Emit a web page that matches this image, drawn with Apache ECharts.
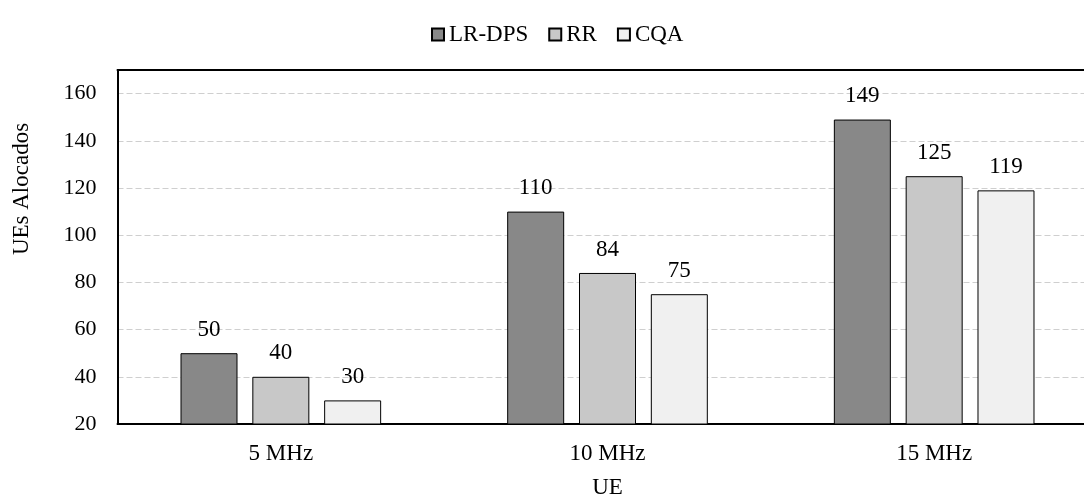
<!DOCTYPE html>
<html>
<head>
<meta charset="utf-8">
<script src="https://cdn.jsdelivr.net/npm/echarts@6/dist/echarts.min.js"></script>
<style>
  html, body { margin: 0; padding: 0; background: #fff; }
  #chart { width: 1084px; height: 495px; }
</style>
</head>
<body>
<div id="chart"></div>
<script>
// Bandwidth configurations on the category axis
const categories = ['5 MHz', '10 MHz', '15 MHz'];

// Allocated UEs per scheduler
const seriesNames = ['LR-DPS', 'RR', 'CQA'];
const lrDps = [50, 110, 149];
const rr = [40, 84, 125];
const cqa = [30, 75, 119];

const seriesValues = [lrDps, rr, cqa];
const seriesColors = ['#888888', '#c8c8c8', '#f0f0f0'];

const FONT = '"Liberation Serif", "Times New Roman", serif';
const FS = 23;

const chart = echarts.init(document.getElementById('chart'), null, { renderer: 'canvas' });

chart.setOption({
  backgroundColor: '#ffffff',
  animation: false,
  textStyle: { fontFamily: FONT, color: '#000' },
  legend: {
    top: 18,
    left: 426,
    icon: 'rect',
    itemWidth: 12,
    itemHeight: 12,
    itemGap: 20,
    textStyle: { fontFamily: FONT, fontSize: FS, color: '#000' },
    data: seriesNames
  },
  grid: {
    left: 117.5,
    top: 70,
    width: 980,
    height: 354,
    containLabel: false,
    outerBoundsMode: 'none'
  },
  // rotated title of the value axis, drawn as free text
  graphic: [{
    type: 'text',
    x: 22,
    y: 189,
    rotation: Math.PI / 2,
    style: {
      text: 'UEs Alocados',
      fontFamily: FONT,
      fontSize: FS,
      fill: '#000',
      align: 'center',
      verticalAlign: 'middle'
    }
  }],
  xAxis: [
    {
      type: 'category',
      data: categories,
      position: 'bottom',
      name: 'UE',
      nameLocation: 'middle',
      nameGap: 52,
      nameTextStyle: { fontFamily: FONT, fontSize: FS, color: '#000' },
      axisLine: { show: true, lineStyle: { color: '#000', width: 2 } },
      axisTick: { show: false },
      axisLabel: { fontFamily: FONT, fontSize: FS, color: '#000', margin: 18 }
    },
    {
      type: 'category',
      data: categories,
      position: 'top',
      axisLine: { show: true, lineStyle: { color: '#000', width: 2 } },
      axisTick: { show: false },
      axisLabel: { show: false }
    }
  ],
  yAxis: {
    type: 'value',
    min: 20,
    max: 170,
    interval: 20,
    axisLine: { show: true, lineStyle: { color: '#000', width: 2 } },
    axisTick: { show: false },
    axisLabel: {
      fontFamily: FONT, fontSize: 22, color: '#000', margin: 21,
      formatter: function (v) { return v > 160 ? '' : String(v); }
    },
    splitLine: {
      show: true,
      lineStyle: { color: '#cfcfcf', type: [6, 3], width: 1 }
    }
  },
  series: seriesNames.map(function (name, i) {
    return {
      name: name,
      type: 'bar',
      xAxisIndex: 0,
      data: seriesValues[i],
      barWidth: 57,
      barGap: '26%',
      itemStyle: { color: seriesColors[i], borderColor: '#000', borderWidth: 1 },
      label: {
        show: true,
        position: 'top',
        distance: 12,
        fontFamily: FONT,
        fontSize: FS,
        color: '#000'
      }
    };
  })
});
</script>
</body>
</html>
